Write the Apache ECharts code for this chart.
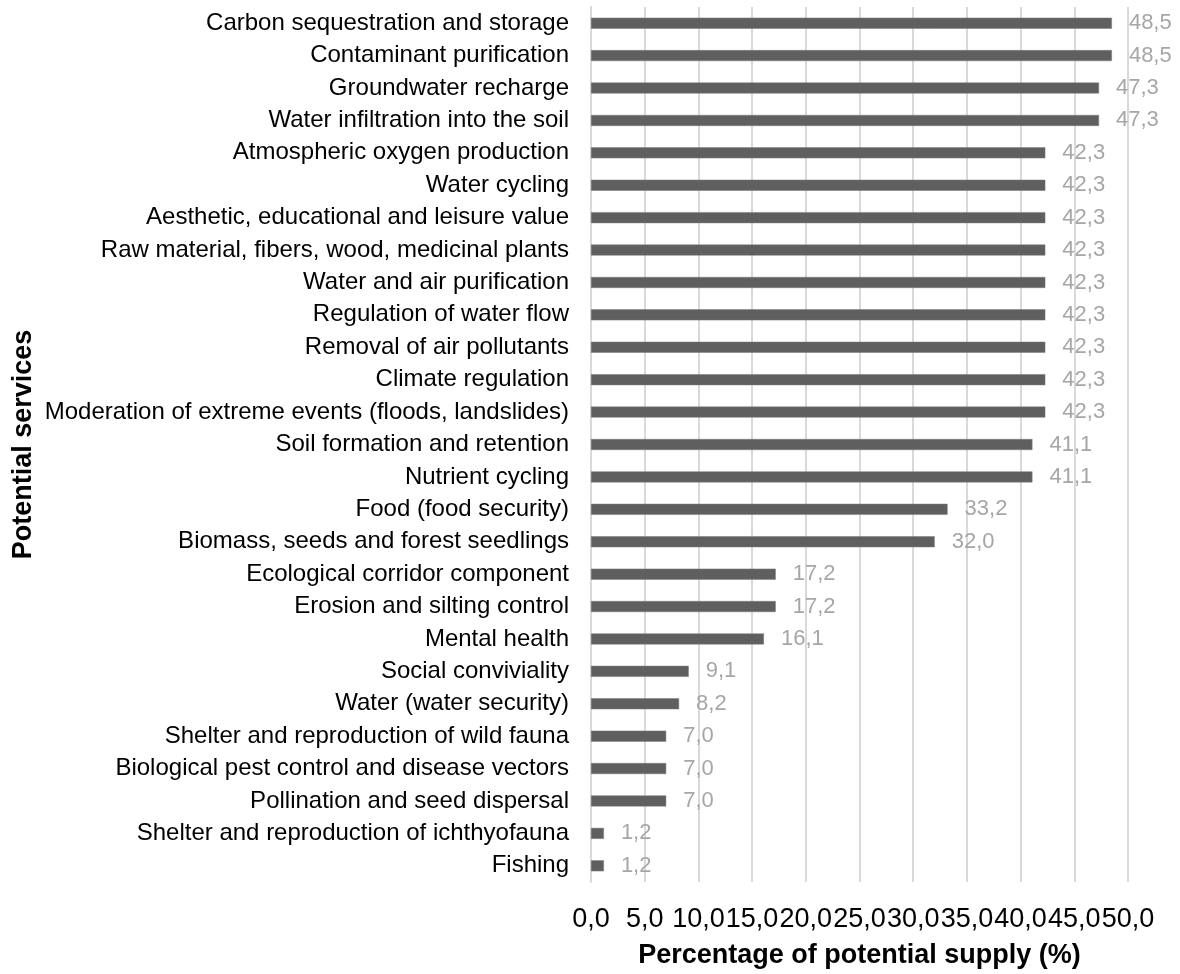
<!DOCTYPE html>
<html>
<head>
<meta charset="utf-8">
<script src="https://cdn.jsdelivr.net/npm/echarts@6/dist/echarts.min.js"></script>
<style>
  html, body { margin: 0; padding: 0; background: #fff; }
  #chart { width: 1180px; height: 974px; }
</style>
</head>
<body>
<div id="chart"></div>
<script>
  // categories, top to bottom
  var services = [
    'Carbon sequestration and storage',
    'Contaminant purification',
    'Groundwater recharge',
    'Water infiltration into the soil',
    'Atmospheric oxygen production',
    'Water cycling',
    'Aesthetic, educational and leisure value',
    'Raw material, fibers, wood, medicinal plants',
    'Water and air purification',
    'Regulation of water flow',
    'Removal of air pollutants',
    'Climate regulation',
    'Moderation of extreme events (floods, landslides)',
    'Soil formation and retention',
    'Nutrient cycling',
    'Food (food security)',
    'Biomass, seeds and forest seedlings',
    'Ecological corridor component',
    'Erosion and silting control',
    'Mental health',
    'Social conviviality',
    'Water (water security)',
    'Shelter and reproduction of wild fauna',
    'Biological pest control and disease vectors',
    'Pollination and seed dispersal',
    'Shelter and reproduction of ichthyofauna',
    'Fishing'
  ]
  var supply = [48.5, 48.5, 47.3, 47.3, 42.3, 42.3, 42.3, 42.3, 42.3, 42.3, 42.3, 42.3, 42.3,
    41.1, 41.1, 33.2, 32.0, 17.2, 17.2, 16.1, 9.1, 8.2, 7.0, 7.0, 7.0, 1.2, 1.2]
  var xTicks = [0, 5, 10, 15, 20, 25, 30, 35, 40, 45, 50]

  var font = '"Liberation Sans", Arial, sans-serif'
  function comma (v) { return Number(v).toFixed(1).replace('.', ',') }

  var chart = echarts.init(document.getElementById('chart'))
  chart.setOption({
    animation: false,
    grid: {left: 591, right: 52, top: 7, bottom: 86, containLabel: false},
    xAxis: {
      type: 'value',
      min: xTicks[0],
      max: xTicks[xTicks.length - 1],
      interval: 5,
      name: 'Percentage of potential supply (%)',
      nameLocation: 'middle',
      nameGap: 60,
      nameTextStyle: {fontFamily: font, fontSize: 27, fontWeight: 'bold', color: '#000'},
      axisLine: {show: false},
      axisTick: {show: false},
      axisLabel: {
        formatter: comma,
        fontFamily: font,
        fontSize: 27,
        color: '#000',
        margin: 24
      },
      splitLine: {show: true, lineStyle: {color: '#d9d9d9', width: 2}}
    },
    yAxis: {
      type: 'category',
      data: services,
      inverse: true,
      name: 'Potential services',
      nameLocation: 'middle',
      nameGap: 554,
      nameTextStyle: {fontFamily: font, fontSize: 27, fontWeight: 'bold', color: '#000'},
      axisLine: {show: true, lineStyle: {color: '#d9d9d9', width: 2}},
      axisTick: {show: false},
      axisLabel: {fontFamily: font, fontSize: 24, color: '#000', margin: 22, interval: 0}
    },
    series: [{
      type: 'bar',
      data: supply,
      barWidth: 11,
      itemStyle: {color: '#5f5f5f', borderColor: '#7a7a7a', borderWidth: 0.5},
      label: {
        show: true,
        position: 'right',
        distance: 17,
        formatter: function (p) { return comma(p.value) },
        fontFamily: font,
        fontSize: 22,
        color: '#a6a6a6'
      }
    }]
  })
</script>
</body>
</html>
